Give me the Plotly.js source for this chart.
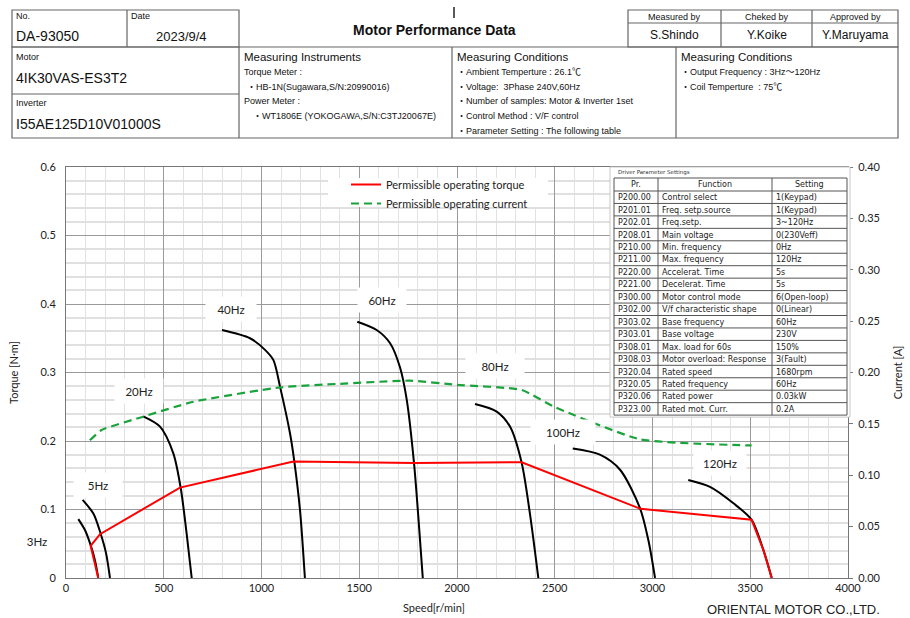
<!DOCTYPE html>
<html><head><meta charset="utf-8">
<script src="https://cdn.plot.ly/plotly-3.0.1.min.js"></script>
<style>html,body{margin:0;padding:0;background:#fff}#chart{width:910px;height:618px}</style>
</head><body><div id="chart"></div>
<script>
// ---------- data ----------
const hz3Speed = [63, 97, 126, 148, 165];
const hz3Torque = [0.086, 0.070, 0.048, 0.026, 0.0];
const hz5Speed = [85, 140, 177, 205, 225];
const hz5Torque = [0.114, 0.094, 0.065, 0.036, 0.0];
const hz20Speed = [395, 481, 549, 587, 617, 643];
const hz20Torque = [0.236, 0.221, 0.182, 0.131, 0.065, 0.0];
const hz40Speed = [798, 941, 1018, 1061, 1095, 1146, 1168, 1197, 1222];
const hz40Torque = [0.362, 0.350, 0.333, 0.318, 0.279, 0.211, 0.170, 0.099, 0.0];
const hz60Speed = [1490, 1589, 1657, 1708, 1743, 1780, 1802, 1825];
const hz60Torque = [0.374, 0.362, 0.343, 0.308, 0.260, 0.168, 0.090, 0.0];
const hz80Speed = [2092, 2203, 2271, 2331, 2373, 2416];
const hz80Torque = [0.254, 0.243, 0.221, 0.168, 0.094, 0.0];
const hz100Speed = [2592, 2731, 2834, 2936, 2979, 3013];
const hz100Torque = [0.189, 0.180, 0.158, 0.102, 0.055, 0.0];
const hz120Speed = [3183, 3294, 3414, 3507, 3567, 3610];
const hz120Torque = [0.143, 0.133, 0.109, 0.085, 0.041, 0.0];

const permTorqueSpeed = [165, 126, 174, 583, 1163, 1780, 2331, 2939, 3507, 3567, 3610];
const permTorque = [0.0, 0.047, 0.064, 0.132, 0.170, 0.168, 0.169, 0.101, 0.085, 0.041, 0.0];
const permCurrentSpeed = [122, 182, 395, 651, 1095, 1401, 1760, 1998, 2331, 2493, 2936, 3507];
const permCurrent = [0.134, 0.144, 0.157, 0.1715, 0.1855, 0.189, 0.192, 0.188, 0.183, 0.167, 0.135, 0.129];

const freqLabels = ['5Hz', '20Hz', '40Hz', '60Hz', '80Hz', '100Hz', '120Hz'];
const freqLabelSpeed = [164, 373, 844, 1616, 2194, 2542, 3345];
const freqLabelTorque = [0.136, 0.273, 0.393, 0.406, 0.309, 0.213, 0.168];
const freqLabelBoxW = [46, 46, 48, 46, 56, 62, 50];

const paramPr = ['P200.00','P201.01','P202.01','P208.01','P210.00','P211.00','P220.00','P221.00','P300.00','P302.00','P303.02','P303.01','P308.01','P308.03','P320.04','P320.05','P320.06','P323.00'];
const paramFunction = ['Control select','Freq. setp.source','Freq.setp.','Main voltage','Min. frequency','Max. frequency','Accelerat. Time','Decelerat. Time','Motor control mode','V/f characteristic shape','Base frequency','Base voltage','Max. load for 60s','Motor overload: Response','Rated speed','Rated frequency','Rated power','Rated mot. Curr.'];
const paramSetting = ['1(Keypad)','1(Keypad)','3~120Hz','0(230Veff)','0Hz','120Hz','5s','5s','6(Open-loop)','0(Linear)','60Hz','230V','150%','3(Fault)','1680rpm','60Hz','0.03kW','0.2A'];
const paramHeader = ['Pr.', 'Function', 'Setting'];

// ---------- helpers (pixel -> paper) ----------
const L = 66, R = 62, T = 167, B = 40, W = 910, H = 618;
const PW = W - L - R, PH = H - T - B;
const PX = x => (x - L) / PW;
const PY = y => (H - B - y) / PH;

const CHART_FONT = 'Lato, "Noto Sans", sans-serif';
const HEAD_FONT = '"Liberation Sans", Arial, "Noto Sans CJK JP", sans-serif';
const TABLE_FONT = '"DejaVu Sans", Verdana, sans-serif';

const shapes = [];
const annotations = [];
function line(x0, y0, x1, y1, color, width) {
  shapes.push({type: 'line', xref: 'paper', yref: 'paper', x0: PX(x0), y0: PY(y0), x1: PX(x1), y1: PY(y1),
    line: {color: color || '#666', width: width || 1.2}, layer: 'above'});
}
function rect(x0, y0, x1, y1, fill, color, width) {
  shapes.push({type: 'rect', xref: 'paper', yref: 'paper', x0: PX(x0), y0: PY(y0), x1: PX(x1), y1: PY(y1),
    fillcolor: fill || 'rgba(0,0,0,0)', line: {color: color || '#666', width: width === undefined ? 1.2 : width}, layer: 'above'});
}
function text(t, x, y, size, anchor, opts) {
  opts = opts || {};
  annotations.push(Object.assign({text: t, xref: 'paper', yref: 'paper', x: PX(x), y: PY(y), showarrow: false,
    xanchor: anchor || 'left', yanchor: 'middle',
    font: {family: opts.family || HEAD_FONT, size: size, color: opts.color || '#111', weight: opts.weight || 'normal'}}, opts.extra || {}));
}

// ---------- header form ----------
rect(12, 10, 239, 47);
line(127, 10, 127, 47);
rect(628, 10, 898, 47);
line(628, 23, 898, 23);
line(721, 10, 721, 47);
line(812, 10, 812, 47);
rect(12, 47, 898, 138);
line(12, 94, 239, 94);
line(239, 47, 239, 138);
line(452, 47, 452, 138);
line(676, 47, 676, 138);
line(454, 7, 454, 18, '#222', 1.5);

text('No.', 14, 16, 9);
text('DA-93050', 14, 36, 14);
text('Date', 129, 16, 9);
text('2023/9/4', 209, 36, 13, 'right');
text('Motor', 14, 57, 9);
text('4IK30VAS-ES3T2', 14, 78, 14);
text('Inverter', 14, 103, 9);
text('I55AE125D10V01000S', 14, 124, 14);
text('Motor Performance Data', 434, 30, 14, 'center', {weight: 'bold'});
text('Measuring Instruments', 242, 57, 11.5);
text('Torque Meter :', 242, 72, 9);
text('・HB-1N(Sugawara,S/N:20990016)', 245, 87, 9);
text('Power Meter :', 242, 101, 9);
text('・WT1806E (YOKOGAWA,S/N:C3TJ20067E)', 251, 116, 9);
text('Measured by', 674.5, 17, 9, 'center');
text('Cheked by', 766.5, 17, 9, 'center');
text('Approved by', 855, 17, 9, 'center');
text('S.Shindo', 674.5, 35, 12, 'center');
text('Y.Koike', 766.5, 35, 12, 'center');
text('Y.Maruyama', 855, 35, 12, 'center');
text('Measuring Conditions', 455, 57, 11.5);
['・Ambient Temperture : 26.1℃', '・Voltage:  3Phase 240V,60Hz', '・Number of samples: Motor &amp; Inverter 1set',
 '・Control Method : V/F control', '・Parameter Setting : The following table'].forEach((t, i) => text(t, 455, 72 + i * 14.7, 9));
text('Measuring Conditions', 679, 57, 11.5);
text('・Output Frequency : 3Hz～120Hz', 679, 72, 9);
text('・Coil Temperture  : 75℃', 679, 87, 9);

// ---------- legend background ----------
rect(328, 178, 548, 207, '#fff', 'rgba(0,0,0,0)', 0);

// ---------- parameter table ----------
const tX = [614, 658, 772, 847];
const tTop = 178, tHead = 13, tRow = 12.45;
const tBottom = tTop + tHead + tRow * paramPr.length;
rect(610, 167, 850, tBottom + 2, '#fff', '#c8c8c8', 1);
text('Driver Parameter Settings', 616, 172.5, 5.5, 'left', {family: TABLE_FONT, color: '#333'});
rect(tX[0], tTop, tX[3], tBottom, 'rgba(0,0,0,0)', '#555', 1);
for (let i = 1; i < 3; i++) line(tX[i], tTop, tX[i], tBottom, '#555', 1);
for (let r = 0; r < paramPr.length; r++) line(tX[0], tTop + tHead + r * tRow, tX[3], tTop + tHead + r * tRow, '#555', 1);
paramHeader.forEach((h, i) => text(h, (tX[i] + tX[i + 1]) / 2, tTop + tHead / 2 + 0.5, 8, 'center', {family: TABLE_FONT, color: '#222'}));
const cols = [paramPr, paramFunction, paramSetting];
cols.forEach((col, c) => col.forEach((v, r) => text(v, tX[c] + 1.5, tTop + tHead + r * tRow + tRow / 2 + 0.5, 8, 'left', {family: TABLE_FONT, color: '#222'})));

// ---------- frequency labels ----------
freqLabels.forEach((t, i) => annotations.push({text: t, xref: 'x', yref: 'y', x: freqLabelSpeed[i], y: freqLabelTorque[i],
  xanchor: 'center', yanchor: 'middle',
  showarrow: false, bgcolor: '#fff', width: freqLabelBoxW[i], height: 22, font: {family: CHART_FONT, size: 11.5, color: '#222'}}));
annotations.push({text: '3Hz', xref: 'paper', yref: 'paper', x: PX(37), y: PY(541), xanchor: 'center', yanchor: 'middle',
  showarrow: false, bgcolor: '#fff', width: 40, height: 20, font: {family: CHART_FONT, size: 11.5, color: '#222'}});

// ---------- axis title / footer ----------
text('Speed[r/min]', 434, 607, 11, 'center', {family: CHART_FONT, color: '#222'});
text('ORIENTAL MOTOR CO.,LTD.', 793, 609, 13, 'center', {color: '#222'});

// ---------- traces ----------
const blk = {color: '#000', width: 2, shape: 'spline', smoothing: 0.8};
const curves = [[hz3Speed, hz3Torque], [hz5Speed, hz5Torque], [hz20Speed, hz20Torque], [hz40Speed, hz40Torque],
  [hz60Speed, hz60Torque], [hz80Speed, hz80Torque], [hz100Speed, hz100Torque], [hz120Speed, hz120Torque]];
const data = curves.map(c => ({x: c[0], y: c[1], type: 'scatter', mode: 'lines', line: blk, showlegend: false, hoverinfo: 'skip'}));
data.push({x: permTorqueSpeed, y: permTorque, type: 'scatter', mode: 'lines', name: 'Permissible operating torque',
  line: {color: '#ff0000', width: 2}});
data.push({x: permCurrentSpeed, y: permCurrent, type: 'scatter', mode: 'lines', name: 'Permissible operating current', yaxis: 'y2',
  line: {color: '#1aa33a', width: 2.2, dash: '8px,5px', shape: 'spline', smoothing: 0.5}});

const tickFont = {family: CHART_FONT, size: 11, color: '#222'};
const layout = {
  width: W, height: H,
  margin: {l: L, r: R, t: T, b: B, pad: 0},
  paper_bgcolor: '#fff', plot_bgcolor: '#fff',
  showlegend: true,
  legend: {x: PX(346), y: PY(170), xanchor: 'left', yanchor: 'top', bgcolor: 'rgba(0,0,0,0)', borderwidth: 0,
    font: {family: CHART_FONT, size: 11, color: '#222'}, tracegroupgap: 0},
  xaxis: {range: [0, 4000], tick0: 0, dtick: 500, showgrid: true, gridcolor: '#9a9a9a', gridwidth: 1,
    minor: {dtick: 100, showgrid: true, gridcolor: '#e2e2e2', gridwidth: 1},
    showline: true, linecolor: '#777', linewidth: 1, mirror: true, ticks: '', zeroline: false, tickfont: tickFont, fixedrange: true},
  yaxis: {range: [0, 0.6], tick0: 0, dtick: 0.1, showgrid: true, gridcolor: '#9a9a9a', gridwidth: 1,
    minor: {dtick: 0.02, showgrid: true, gridcolor: '#e0e0e0', gridwidth: 2},
    showline: true, linecolor: '#777', linewidth: 1, mirror: true, ticks: '', zeroline: false, tickfont: tickFont,
    ticklabelstandoff: 7,
    title: {text: 'Torque [N·m]', font: {family: CHART_FONT, size: 11, color: '#222'}, standoff: 19}},
  yaxis2: {range: [0, 0.4], tick0: 0, dtick: 0.05, tickformat: '.2f', overlaying: 'y', side: 'right', showgrid: false,
    zeroline: false, showline: true, linecolor: '#777', ticks: 'outside', ticklen: 4, tickcolor: '#777', tickfont: tickFont,
    ticklabelstandoff: 3,
    title: {text: 'Current [A]', font: {family: CHART_FONT, size: 11, color: '#222'}, standoff: 14}},
  shapes: shapes,
  annotations: annotations
};
Plotly.newPlot('chart', data, layout, {displayModeBar: false, staticPlot: true});
</script></body></html>
